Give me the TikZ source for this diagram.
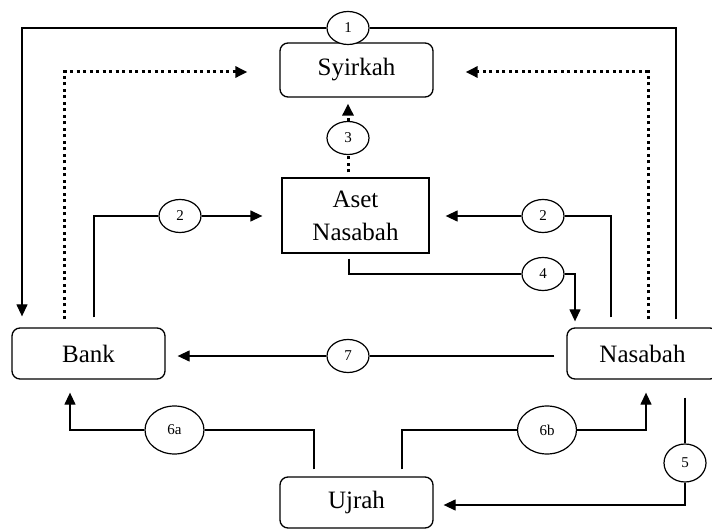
\documentclass[tikz,border=0pt]{standalone}
\usepackage{fontspec}
\setmainfont{Liberation Serif}
\usetikzlibrary{shapes.geometric,arrows.meta}
\begin{document}
\begin{tikzpicture}[x=1pt,y=-1pt,
  box/.style={draw, line width=1.3pt, rounded corners=8pt, inner sep=0pt, font=\fontsize{25}{33}\selectfont, align=center},
  sbox/.style={box, rounded corners=0pt},
  lbl/.style={draw, ellipse, line width=1.2pt, fill=white, inner sep=0pt, minimum width=42pt, minimum height=33pt, font=\fontsize{15}{15}\selectfont},
  conn/.style={line width=1.3pt},
  arr/.style={conn, -{Triangle[length=12pt,width=11pt]}},
  dots/.style={line width=3pt, dash pattern=on 3pt off 3.5pt},
  dotarr/.style={dots, -{Triangle[length=12pt,width=11pt]}},
]
\useasboundingbox (0,0) rectangle (712,529);

\node[box, minimum width=153pt, minimum height=54pt] (syirkah) at (356.5,70) {Syirkah};
\node[sbox, minimum width=147pt, minimum height=75pt] (aset) at (355.5,215.5) {Aset\\Nasabah};
\node[box, minimum width=153pt, minimum height=51pt] (bank) at (88.5,353.5) {Bank};
\node[box, minimum width=151pt, minimum height=51pt] (nasabah) at (642.5,353.5) {Nasabah};
\node[box, minimum width=153pt, minimum height=51pt] (ujrah) at (356.5,502.5) {Ujrah};

\node[lbl] (c1) at (348,28) {1};
\node[lbl] (c3) at (348,138) {3};
\node[lbl] (c2l) at (180,216) {2};
\node[lbl] (c2r) at (543,216) {2};
\node[lbl] (c4) at (543,274) {4};
\node[lbl] (c7) at (348,356) {7};
\node[lbl, minimum width=59pt, minimum height=48pt] (c6a) at (174.5,430) {6a};
\node[lbl, minimum width=59pt, minimum height=48pt] (c6b) at (547,430) {6b};
\node[lbl, minimum height=38pt] (c5) at (685,463) {5};

\coordinate (a3) at (c3 |- aset.north);

% 1
\draw[conn] ([xshift=33.5pt,yshift=8pt]nasabah.north) |- (c1);
\draw[arr] (c1) -| ([xshift=-66.5pt,yshift=11pt]bank.north);
% dotted
\draw[dotarr, shorten >=32pt] ([xshift=-24.5pt,yshift=8pt]bank.north) |- ([yshift=-2pt]syirkah.west);
\draw[dotarr, shorten >=32pt] ([xshift=5.5pt,yshift=8pt]nasabah.north) |- ([yshift=-2pt]syirkah.east);
% 3
\draw[dots] ([yshift=5pt]a3) -- (c3);
\draw[dotarr, shorten >=6pt] (c3) -- (c3 |- syirkah.south);
% 2 left
\draw[conn] ([xshift=5.5pt,yshift=10pt]bank.north) |- (c2l);
\draw[arr, shorten >=19pt] (c2l) -- (c2l -| aset.west);
% 2 right
\draw[conn] ([xshift=-31.5pt,yshift=10pt]nasabah.north) |- (c2r);
\draw[arr, shorten >=16pt] (c2r) -- (c2r -| aset.east);
% 4
\draw[conn] ([xshift=-6.5pt,yshift=-5pt]aset.south) |- (c4);
\draw[arr] (c4) -| ([xshift=-67.5pt,yshift=6pt]nasabah.north);
% 7
\draw[conn, shorten <=12pt] (c7 -| nasabah.west) -- (c7);
\draw[arr, shorten >=12pt] (c7) -- (c7 -| bank.east);
% 6a
\draw[conn] ([xshift=-42.5pt,yshift=7pt]ujrah.north) |- (c6a);
\draw[arr] (c6a) -| ([xshift=-18.5pt,yshift=-13pt]bank.south);
% 6b
\draw[conn] ([xshift=45.5pt,yshift=7pt]ujrah.north) |- (c6b);
\draw[arr] (c6b) -| ([xshift=3.5pt,yshift=-13pt]nasabah.south);
% 5
\draw[conn] ([xshift=42.5pt,yshift=-18pt]nasabah.south) -- (c5);
\draw[arr, shorten >=10pt] (c5) |- ([yshift=-2.5pt]ujrah.east);
\end{tikzpicture}
\end{document}
